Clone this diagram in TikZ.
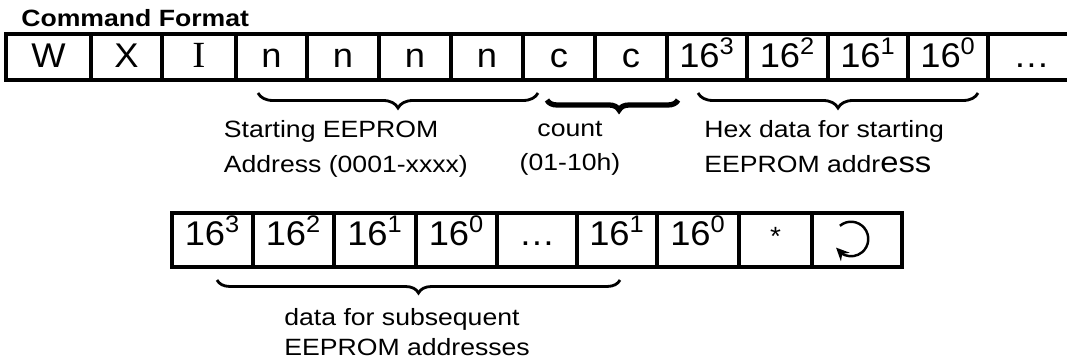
\documentclass[tikz,border=0pt]{standalone}
\usepackage{fontspec}
\setmainfont{Liberation Sans}
\newfontfamily\labelfont{Liberation Sans}[FakeStretch=1.13]
\newfontfamily\cellfont{Liberation Sans}[FakeStretch=1.06]
\newfontfamily\romanfont{Liberation Serif}[FakeStretch=1.06]
\usetikzlibrary{positioning,arrows.meta,bending,decorations.pathreplacing}

\tikzset{
  cell/.style={draw, line width=2.2pt, inner sep=0pt, outer sep=0pt,
    minimum height=9.2mm, text height=14pt, text depth=1.9pt,
    font=\cellfont\fontsize{19.5pt}{21pt}\selectfont},
  lowcell/.style={cell, minimum height=10.8mm, text depth=8pt},
  note/.style={inner sep=0pt, align=left,
    font=\labelfont\fontsize{13.4pt}{19.8pt}\selectfont},
  curly/.style={decorate, decoration={brace, mirror, amplitude=3mm}, line width=1.6pt},
}

\begin{document}
\begin{tikzpicture}[x=1mm,y=1mm]
\useasboundingbox (0,0) rectangle (213.4,-72);
\node[anchor=base west, inner sep=0pt,
  font=\labelfont\bfseries\fontsize{13.4pt}{16pt}\selectfont] (title) at (4.2,-5.34) {Command Format};
% command row
\node[cell, minimum width=17mm] (W) at (9.7,-11.4) {W};
\node[cell, minimum width=14.2mm, right=0pt of W] (X) {X};
\node[cell, minimum width=14.8mm, right=0pt of X,
  font=\romanfont\fontsize{21pt}{22pt}\selectfont] (I) {I};
\node[cell, minimum width=14.2mm, right=0pt of I] (n1) {n};
\node[cell, minimum width=14.4mm, right=0pt of n1] (n2) {n};
\node[cell, minimum width=14.4mm, right=0pt of n2] (n3) {n};
\node[cell, minimum width=14.4mm, right=0pt of n3] (n4) {n};
\node[cell, minimum width=14.4mm, right=0pt of n4] (c1) {c};
\node[cell, minimum width=14.4mm, right=0pt of c1] (c2) {c};
\node[cell, minimum width=16mm, right=0pt of c2] (h3) {16\textsuperscript{3}};
\node[cell, minimum width=16.2mm, right=0pt of h3] (h2) {16\textsuperscript{2}};
\node[cell, minimum width=16mm, right=0pt of h2] (h1) {16\textsuperscript{1}};
\node[cell, minimum width=16mm, right=0pt of h1] (h0) {16\textsuperscript{0}};
\node[cell, minimum width=17.4mm, right=0pt of h0] (more) {\ldots};
% braces under the command row
\coordinate (addrL) at (51.6,-18.6);
\coordinate (addrR) at (107.6,-18.6);
\coordinate (countL) at (109.4,-20);
\coordinate (countR) at (135.6,-20);
\coordinate (hexL) at (139.6,-18.6);
\coordinate (hexR) at (195.6,-18.6);
\draw[curly] (addrL) -- (addrR);
\draw[curly, line width=3pt, decoration={amplitude=2mm, aspect=0.55}] (countL) -- (countR);
\draw[curly] (hexL) -- (hexR);
\node[note, anchor=north west] (addrtxt) at (44.7,-24.1) {Starting EEPROM\\Address (0001-xxxx)};
\node[note, anchor=north, align=center] (counttxt) at (114,-24.1) {count\\(01-10h)};
\node[note, anchor=north west] (hextxt) at (140.8,-24.1)
  {Hex data for starting\\EEPROM addr{\fontsize{16.5pt}{19.8pt}\selectfont ess}};
% data row
\node[lowcell, minimum width=16.2mm] (d3) at (42.5,-48) {16\textsuperscript{3}};
\node[lowcell, minimum width=16.2mm, right=0pt of d3] (d2) {16\textsuperscript{2}};
\node[lowcell, minimum width=16.4mm, right=0pt of d2] (d1) {16\textsuperscript{1}};
\node[lowcell, minimum width=16.2mm, right=0pt of d1] (d0) {16\textsuperscript{0}};
\node[lowcell, minimum width=16mm, right=0pt of d0] (dmore) {\ldots};
\node[lowcell, minimum width=16mm, right=0pt of dmore] (e1) {16\textsuperscript{1}};
\node[lowcell, minimum width=16.4mm, right=0pt of e1] (e0) {16\textsuperscript{0}};
\node[lowcell, minimum width=14.6mm, right=0pt of e0,
  font=\cellfont\fontsize{15pt}{16pt}\selectfont] (star) {*};
\node[lowcell, minimum width=18mm, right=0pt of star] (ret) {};
\draw[line width=1.4pt, -{Stealth[length=2.6mm,width=2.4mm]}]
  ([shift={(-1.2,0.2)}]ret.center) ++(130:3.45) arc[start angle=130, end angle=-150, radius=3.45];
\coordinate (nextL) at (43.4,-56);
\coordinate (nextR) at (124,-56);
\draw[curly, decoration={amplitude=2.6mm}] (nextL) -- (nextR);
\node[note, anchor=north west, font=\labelfont\fontsize{13.4pt}{17pt}\selectfont] (nexttxt) at (56.8,-61.6)
  {data for subsequent\\EEPROM addresses};
\end{tikzpicture}
\end{document}
